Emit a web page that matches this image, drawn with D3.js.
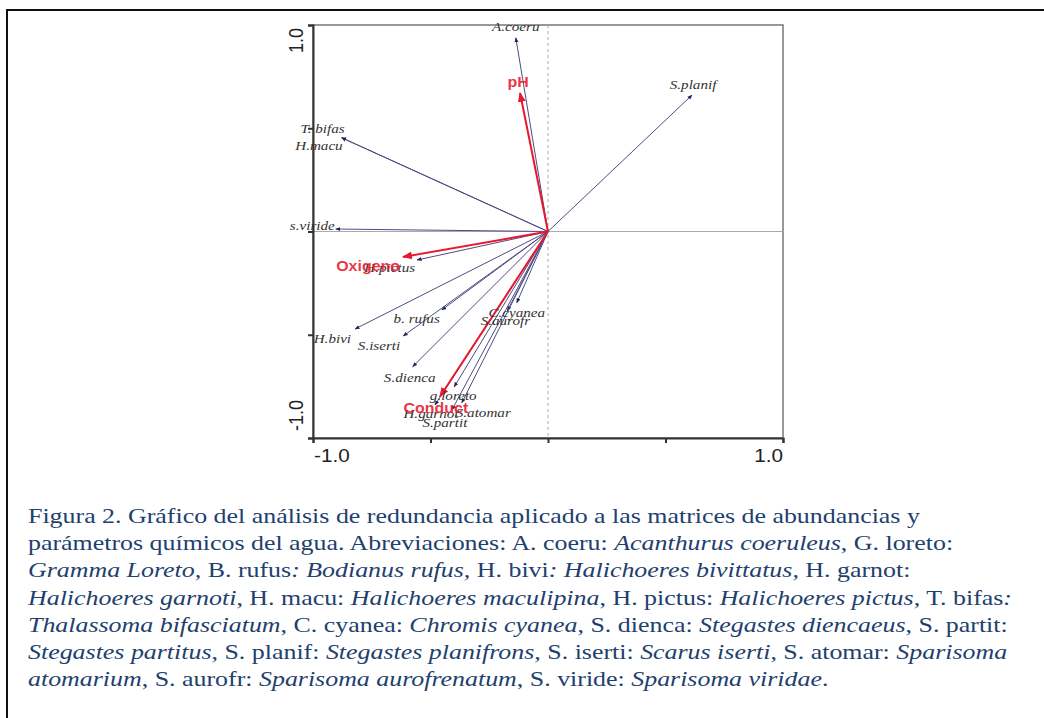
<!DOCTYPE html>
<html>
<head>
<meta charset="utf-8">
<script src="https://cdn.jsdelivr.net/npm/d3@7"></script>
<style>
  body { margin: 0; background: #fff; }
  svg { display: block; }
  .serif { font-family: "Liberation Serif", "Times New Roman", Times, Tinos, "Nimbus Roman", serif; }
  .sans { font-family: "Liberation Sans", Arial, Helvetica, Arimo, sans-serif; }
</style>
</head>
<body>
<svg width="1044" height="718"></svg>
<script>
// species scores (RDA axis 1, axis 2)
var speciesNames = ["A.coeru", "T. bifas", "H.macu", "s.viride", "S.planif", "H.pictus", "b. rufus",
                    "H.bivi", "S.iserti", "S.dienca", "C.cyanea", "S.aurofr", "g.loreto", "S.atomar",
                    "H.garnot", "S.partit"]
var speciesX = [-0.137, -0.878, -0.878, -0.903, 0.613, -0.557, -0.452,
                -0.821, -0.616, -0.576, -0.133, -0.173, -0.399, -0.367,
                -0.481, -0.409]
var speciesY = [0.938, 0.454, 0.454, 0.012, 0.661, -0.138, -0.380,
                -0.472, -0.506, -0.655, -0.345, -0.384, -0.752, -0.830,
                -0.840, -0.864]

// environmental vectors
var envNames = ["pH", "Oxigeno", "Conduct"]
var envX = [-0.119, -0.617, -0.460]
var envY = [0.671, -0.123, -0.800]

var tickValues = [-1, -0.5, 0, 0.5, 1]
var axisLabels = ["-1.0", "1.0"]

var captionLines = [
  "Figura 2. Gráfico del análisis de redundancia aplicado a las matrices de abundancias y",
  "parámetros químicos del agua. Abreviaciones: A. coeru: *Acanthurus coeruleus*, G. loreto:",
  "*Gramma Loreto,* B. rufus*: Bodianus rufus,* H. bivi*: Halichoeres bivittatus,* H. garnot:",
  "*Halichoeres garnoti*, H. macu: *Halichoeres maculipina*, H. pictus: *Halichoeres pictus,* T. bifas*:*",
  "*Thalassoma bifasciatum*, C. cyanea: *Chromis cyanea*, S. dienca: *Stegastes diencaeus*, S. partit:",
  "*Stegastes partitus*, S. planif: *Stegastes planifrons,* S. iserti: *Scarus iserti*, S. atomar: *Sparisoma*",
  "*atomarium*, S. aurofr: *Sparisoma aurofrenatum*, S. viride: *Sparisoma viridae*."
]

// label placement relative to arrow tip
var labelPos = {
  "A.coeru":  {dx: 0,  dy: -7, a: "middle"},
  "T. bifas": {dx: 3,  dy: -5, a: "end"},
  "H.macu":   {dx: 1,  dy: 12, a: "end"},
  "s.viride": {dx: -1, dy: 1,  a: "end"},
  "S.planif": {dx: 1,  dy: -6, a: "middle"},
  "H.pictus": {dx: -2, dy: 12, a: "end"},
  "b. rufus": {dx: -2, dy: 13, a: "end"},
  "H.bivi":   {dx: -4, dy: 14, a: "end"},
  "S.iserti": {dx: -3, dy: 14, a: "end"},
  "S.dienca": {dx: -3, dy: 15, a: "middle"},
  "C.cyanea": {dx: 0,  dy: 14, a: "middle"},
  "S.aurofr": {dx: -2, dy: 14, a: "middle"},
  "g.loreto": {dx: -1, dy: 13, a: "middle"},
  "S.atomar": {dx: -6, dy: 14, a: "start"},
  "H.garnot": {dx: -4, dy: 13, a: "middle"},
  "S.partit": {dx: -7, dy: 17, a: "middle"},
  "pH":       {dx: -2, dy: -6, a: "middle"},
  "Oxigeno":  {dx: -3, dy: 14, a: "end"},
  "Conduct":  {dx: -4, dy: 16, a: "middle"}
}

var svg = d3.select("svg")

// page frame (top + left rule)
svg.append("line").attr("x1", 7).attr("x2", 1044).attr("y1", 10).attr("y2", 10)
  .attr("stroke", "#111").attr("stroke-width", 2)
svg.append("line").attr("x1", 7).attr("x2", 7).attr("y1", 9).attr("y2", 718)
  .attr("stroke", "#111").attr("stroke-width", 2)

var xScale = d3.scaleLinear().domain([-1, 1]).range([313, 783])
var yScale = d3.scaleLinear().domain([-1, 1]).range([438, 25])

var defs = svg.append("defs")
var addMarker = function(id, color, size) {
  defs.append("marker")
    .attr("id", id)
    .attr("viewBox", "0 -5 10 10")
    .attr("refX", 9).attr("refY", 0)
    .attr("markerUnits", "userSpaceOnUse")
    .attr("markerWidth", size).attr("markerHeight", size)
    .attr("orient", "auto")
    .append("path").attr("d", "M0,-4L10,0L0,4Z").attr("fill", color)
}
addMarker("headSp", "#23235e", 5)
addMarker("headEnv", "#e8182e", 10)

// plot box
svg.append("rect")
  .attr("x", xScale(-1)).attr("y", yScale(1))
  .attr("width", xScale(1) - xScale(-1)).attr("height", yScale(-1) - yScale(1))
  .attr("fill", "none").attr("stroke", "#777").attr("stroke-width", 1.5)

// zero lines
svg.append("line")
  .attr("x1", xScale(-1)).attr("x2", xScale(1)).attr("y1", yScale(0)).attr("y2", yScale(0))
  .attr("stroke", "#aaa").attr("stroke-width", 1)
svg.append("line")
  .attr("x1", xScale(0)).attr("x2", xScale(0)).attr("y1", yScale(1)).attr("y2", yScale(-1))
  .attr("stroke", "#aaa").attr("stroke-width", 1).attr("stroke-dasharray", "3,3")

// axes
var xAxis = d3.axisBottom(xScale).tickValues(tickValues).tickSize(5).tickFormat("")
var yAxis = d3.axisLeft(yScale).tickValues(tickValues).tickSize(5).tickFormat("")
svg.append("g").attr("transform", "translate(0," + yScale(-1) + ")").call(xAxis)
  .call(function(g) { g.selectAll("path, line").attr("stroke", "#333").attr("stroke-width", 2) })
svg.append("g").attr("transform", "translate(" + xScale(-1) + ",0)").call(yAxis)
  .call(function(g) { g.selectAll("path, line").attr("stroke", "#333").attr("stroke-width", 2) })

var addNum = function(txt, anchor, tf) {
  svg.append("text").text(txt).attr("class", "sans")
    .attr("text-anchor", anchor).attr("transform", tf)
    .attr("font-size", 18).attr("fill", "#222")
}
addNum(axisLabels[0], "start", "translate(" + (xScale(-1) + 1) + "," + (yScale(-1) + 24) + ") scale(1.15,1)")
addNum(axisLabels[1], "end", "translate(" + xScale(1) + "," + (yScale(-1) + 24) + ") scale(1.15,1)")
addNum(axisLabels[1], "end", "translate(" + (xScale(-1) - 10) + "," + (yScale(1) + 3) + ") rotate(-90) scale(1,1.15)")
addNum(axisLabels[0], "start", "translate(" + (xScale(-1) - 10) + "," + (yScale(-1) - 7) + ") rotate(-90) scale(1,1.15)")

// species arrows
var species = speciesNames.map(function(n, i) { return {name: n, x: speciesX[i], y: speciesY[i]} })
var env = envNames.map(function(n, i) { return {name: n, x: envX[i], y: envY[i]} })

svg.append("g").selectAll("line").data(species).enter().append("line")
  .attr("x1", xScale(0)).attr("y1", yScale(0))
  .attr("x2", function(d) { return xScale(d.x) })
  .attr("y2", function(d) { return yScale(d.y) })
  .attr("stroke", "#4d4d85").attr("stroke-width", 1)
  .attr("marker-end", "url(#headSp)")

svg.append("g").selectAll("line").data(env).enter().append("line")
  .attr("x1", xScale(0)).attr("y1", yScale(0))
  .attr("x2", function(d) { return xScale(d.x) })
  .attr("y2", function(d) { return yScale(d.y) })
  .attr("stroke", "#e8182e").attr("stroke-width", 2)
  .attr("marker-end", "url(#headEnv)")

// labels
svg.append("g").selectAll("text").data(species).enter().append("text")
  .attr("class", "serif")
  .text(function(d) { return d.name })
  .attr("text-anchor", function(d) { return labelPos[d.name].a })
  .attr("transform", function(d) {
    var p = labelPos[d.name]
    return "translate(" + (xScale(d.x) + p.dx) + "," + (yScale(d.y) + p.dy) + ") scale(1.12,1)"
  })
  .attr("font-style", "italic").attr("font-size", 13.5).attr("fill", "#333")

svg.append("g").selectAll("text").data(env).enter().append("text")
  .attr("class", "sans")
  .text(function(d) { return d.name })
  .attr("text-anchor", function(d) { return labelPos[d.name].a })
  .attr("transform", function(d) {
    var p = labelPos[d.name]
    return "translate(" + (xScale(d.x) + p.dx) + "," + (yScale(d.y) + p.dy) + ") scale(1.14,1)"
  })
  .attr("font-weight", "bold")
  .attr("font-size", 14).attr("fill", "#e8182e").attr("fill-opacity", 0.9)

// caption
var cap = svg.append("g")
var capText = cap.append("text").attr("class", "serif")
  .attr("font-size", 21).attr("fill", "#22406e")

captionLines.forEach(function(line, i) {
  var row = capText.append("tspan").attr("x", 0).attr("y", 523 + i * 27.2)
  line.split("*").forEach(function(part, j) {
    if (part === "") return
    var t = row.append("tspan").text(part)
    if (j % 2 === 1) t.attr("font-style", "italic")
  })
})

var firstLen = capText.select("tspan").node().getComputedTextLength()
var k = 892 / firstLen
cap.attr("transform", "translate(28,0) scale(" + k + ",1)")
</script>
</body>
</html>
